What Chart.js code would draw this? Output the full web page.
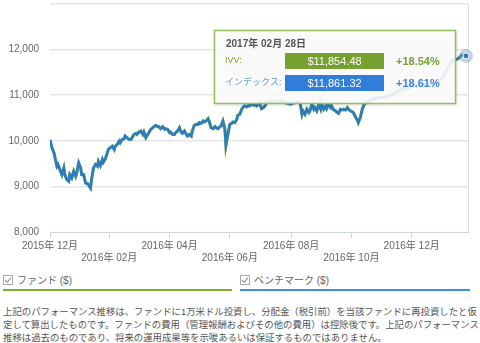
<!DOCTYPE html>
<html lang="ja">
<head>
<meta charset="utf-8">
<title>パフォーマンス推移</title>
<script src="https://cdn.jsdelivr.net/npm/chart.js@4.4.1/dist/chart.umd.min.js"></script>
<style>
  body { margin: 0; background: #fff; font-family: "Liberation Sans", "Noto Sans CJK JP", sans-serif; }
  #wrap { position: relative; width: 480px; height: 343px; overflow: hidden; }
  #chartBox { position: absolute; left: 0; top: 0; width: 480px; height: 265px; }
  .legend-item { position: absolute; top: 273px; height: 16px; font-size: 10px; color: #666; line-height: 16px; }
  .legend-item svg { vertical-align: -1px; margin-right: 4px; }
  #fundLegend { left: 3px; width: 229px; border-bottom: 2px solid #7cae34; }
  #indexLegend { left: 240px; width: 230px; border-bottom: 2px solid #3d8fe6; }
  #note { position: absolute; left: 3px; top: 305px; font-size: 9.4px; line-height: 13px; color: #555; white-space: nowrap; }
</style>
</head>
<body>
<div id="wrap">
  <div id="chartBox"><canvas id="perfChart"></canvas></div>
  <div class="legend-item" id="fundLegend"></div>
  <div class="legend-item" id="indexLegend"></div>
  <div id="note">上記のパフォーマンス推移は、ファンドに1万米ドル投資し、分配金（税引前）を当該ファンドに再投資したと仮<br>定して算出したものです。ファンドの費用（管理報酬およびその他の費用）は控除後です。上記のパフォーマンス<br>推移は過去のものであり、将来の運用成果等を示唆あるいは保証するものではありません。</div>
</div>
<script>
'use strict';

// days since 2015-12-31
const days = [
  0, 2, 4, 7, 8, 10, 12, 14, 15, 17, 19, 20, 22, 24, 26, 27, 29, 31, 32, 34,
  36, 38, 41, 42, 44, 46, 48, 49, 51, 53, 54, 56, 58, 59, 61, 63, 65, 66, 68, 70,
  71, 73, 75, 76, 78, 80, 82, 83, 85, 87, 88, 90, 92, 94, 95, 97, 99, 100, 102, 104,
  105, 107, 109, 110, 112, 114, 116, 117, 119, 121, 122, 124, 126, 127, 129, 131, 133, 134, 136, 138,
  139, 141, 143, 144, 146, 148, 150, 151, 153, 155, 156, 158, 160, 161, 163, 165, 167, 168, 170, 172,
  173, 175, 177, 178, 180, 182, 184, 185, 187, 189, 190, 192, 194, 195, 197, 199, 201, 202, 204, 206,
  207, 209, 211, 212, 214, 216, 218, 219, 222, 226, 229, 233, 236, 240, 243, 246, 250, 253, 255, 256,
  258, 260, 262, 263, 265, 267, 268, 270, 272, 274, 275, 277, 279, 280, 282, 284, 285, 287, 289, 290,
  292, 294, 296, 297, 299, 301, 302, 304, 306, 307, 309, 311, 312, 314, 316, 318, 319, 321, 323, 328,
  335, 342, 346, 350, 354, 358, 362, 366, 370, 374, 378, 382, 386, 390, 394, 398, 401, 404, 407, 410,
  413, 417, 421
];

// IVV (USD)
const fundValues = [
  10020, 9846, 9736, 9442, 9479, 9369, 9258, 9405, 9258, 9148, 9111, 9258, 9185, 9332, 9222, 9295, 9516, 9405, 9258, 9258,
  9075, 9060, 8964, 9148, 9405, 9479, 9442, 9552, 9456, 9589, 9530, 9604, 9736, 9810, 9846, 9883, 9810, 9883, 9920, 9993,
  9957, 10030, 10045, 10104, 10067, 10030, 10030, 10067, 10140, 10163, 10140, 10192, 10214, 10140, 10192, 10067, 10140, 10177, 10251, 10287,
  10310, 10339, 10310, 10310, 10265, 10310, 10251, 10265, 10251, 10177, 10192, 10140, 10140, 10177, 10214, 10287, 10177, 10163, 10214, 10140,
  10104, 10140, 10104, 10214, 10339, 10361, 10361, 10398, 10383, 10434, 10412, 10434, 10486, 10434, 10287, 10265, 10310, 10287, 10265, 10310,
  10324, 10434, 10251, 9898, 10140, 10361, 10383, 10412, 10398, 10471, 10559, 10581, 10692, 10728, 10765, 10743, 10780, 10765, 10802, 10780,
  10802, 10765, 10802, 10839, 10707, 10728, 10780, 10839, 10853, 10875, 10839, 10875, 10853, 10824, 10802, 10824, 10853, 10839, 10581, 10655,
  10581, 10692, 10619, 10655, 10802, 10692, 10728, 10655, 10802, 10692, 10802, 10692, 10765, 10707, 10802, 10728, 10765, 10677, 10655, 10633,
  10603, 10692, 10677, 10692, 10677, 10728, 10692, 10655, 10633, 10619, 10530, 10456, 10398, 10508, 10692, 10802, 10824, 10839, 10875, 10927,
  10949, 10971, 11000, 11050, 11110, 11160, 11150, 11190, 11220, 11180, 11230, 11250, 11210, 11260, 11320, 11420, 11540, 11650, 11760, 11775,
  11800, 11885, 11854.48
];

// index (USD)
const indexValues = [
  10020, 9846, 9736, 9442, 9479, 9369, 9258, 9405, 9258, 9148, 9111, 9258, 9185, 9332, 9222, 9295, 9516, 9405, 9258, 9258,
  9075, 9060, 8964, 9148, 9405, 9479, 9442, 9552, 9456, 9589, 9530, 9604, 9736, 9810, 9846, 9883, 9810, 9883, 9920, 9993,
  9957, 10030, 10045, 10104, 10067, 10030, 10030, 10067, 10140, 10163, 10140, 10192, 10214, 10140, 10192, 10067, 10140, 10177, 10251, 10287,
  10310, 10339, 10310, 10310, 10265, 10310, 10251, 10265, 10251, 10177, 10192, 10140, 10140, 10177, 10214, 10287, 10177, 10163, 10214, 10140,
  10104, 10140, 10104, 10214, 10339, 10361, 10361, 10398, 10383, 10434, 10412, 10434, 10486, 10434, 10287, 10265, 10310, 10287, 10265, 10310,
  10324, 10434, 10251, 9898, 10140, 10361, 10383, 10412, 10398, 10471, 10559, 10581, 10692, 10728, 10765, 10743, 10780, 10765, 10802, 10780,
  10802, 10765, 10802, 10839, 10707, 10728, 10780, 10839, 10853, 10875, 10839, 10875, 10853, 10824, 10802, 10824, 10853, 10839, 10581, 10655,
  10581, 10692, 10619, 10655, 10802, 10692, 10728, 10655, 10802, 10692, 10802, 10692, 10765, 10707, 10802, 10728, 10765, 10677, 10655, 10633,
  10603, 10692, 10677, 10692, 10677, 10728, 10692, 10655, 10633, 10619, 10530, 10456, 10398, 10508, 10692, 10802, 10824, 10839, 10875, 10927,
  10949, 10971, 11000, 11050, 11110, 11160, 11150, 11190, 11220, 11180, 11230, 11250, 11210, 11260, 11320, 11420, 11540, 11650, 11760, 11775,
  11800, 11885, 11861.32
];

const xTickDays = [0, 60, 121, 182, 244, 305, 366];
const xTickLabels = ['2015年 12月', '2016年 02月', '2016年 04月', '2016年 06月', '2016年 08月', '2016年 10月', '2016年 12月'];
const yTickValues = [8000, 9000, 10000, 11000, 12000, 13000];

const seriesNames = ['IVV:', 'インデックス:'];
const legendNames = ['ファンド ($)', 'ベンチマーク ($)'];
const lastDateLabel = '2017年 02月 28日';
const initialInvestment = 10000;

const GREEN = '#93bd52';
const BLUE = '#2a7bc3';
const FONT = '"Liberation Sans", "Noto Sans CJK JP", sans-serif';

// legend entries below the chart
const checkSvg = '<svg width="10" height="10"><rect x="0.5" y="0.5" width="9" height="9" fill="#fff" stroke="#aaa"/>' +
  '<path d="M2 5 L4.2 7.4 L8 2.6" fill="none" stroke="#999" stroke-width="1.2"/></svg>';
document.getElementById('fundLegend').innerHTML = checkSvg + legendNames[0];
document.getElementById('indexLegend').innerHTML = checkSvg + legendNames[1];

const toPoints = vals => days.map((d, i) => ({ x: d, y: vals[i] }));

// thin frame line on the right side of the plot
const rightFrame = {
  id: 'rightFrame',
  beforeDatasetsDraw(chart) {
    const { ctx, chartArea } = chart;
    ctx.save();
    ctx.strokeStyle = '#dcdcdc';
    ctx.lineWidth = 1;
    ctx.beginPath();
    ctx.moveTo(chartArea.right + 0.5, chartArea.top);
    ctx.lineTo(chartArea.right + 0.5, chartArea.bottom);
    ctx.stroke();
    ctx.restore();
  }
};

// hovered last point + info panel
const hoverPanel = {
  id: 'hoverPanel',
  afterDraw(chart) {
    const { ctx, chartArea } = chart;
    const last = days.length - 1;
    const pt = chart.getDatasetMeta(1).data[last];

    ctx.save();
    ctx.fillStyle = 'rgba(120,160,190,0.45)';
    ctx.beginPath();
    ctx.arc(pt.x, pt.y, 7, 0, Math.PI * 2);
    ctx.fill();
    ctx.fillStyle = BLUE;
    ctx.strokeStyle = '#fff';
    ctx.lineWidth = 1;
    ctx.beginPath();
    ctx.arc(pt.x, pt.y, 3, 0, Math.PI * 2);
    ctx.fill();
    ctx.stroke();

    const w = 242, h = 74;
    const L = Math.round(pt.x - 10 - w);
    const T = Math.round(chartArea.top + 26);

    ctx.shadowColor = 'rgba(0,0,0,0.18)';
    ctx.shadowBlur = 3;
    ctx.shadowOffsetX = 1;
    ctx.shadowOffsetY = 1;
    ctx.fillStyle = 'rgba(255,255,255,0.88)';
    ctx.fillRect(L, T, w, h);
    ctx.shadowColor = 'transparent';
    ctx.strokeStyle = '#98bd5c';
    ctx.lineWidth = 1.5;
    ctx.strokeRect(L + 0.5, T + 0.5, w - 1, h - 1);

    ctx.textBaseline = 'middle';
    ctx.textAlign = 'left';
    ctx.fillStyle = '#555';
    ctx.font = 'bold 10px ' + FONT;
    ctx.fillText(lastDateLabel, L + 12, T + 14);

    const rows = [
      { name: seriesNames[0], value: fundValues[last], text: '#7c9f3a', box: '#76a030', pct: '#76a033', y: T + 31 },
      { name: seriesNames[1], value: indexValues[last], text: '#6b9be0', box: '#307dda', pct: '#3a82e0', y: T + 53 }
    ];
    rows.forEach(r => {
      ctx.font = '9px ' + FONT;
      ctx.fillStyle = r.text;
      ctx.textAlign = 'left';
      ctx.fillText(r.name, L + 11, r.y);

      ctx.fillStyle = r.box;
      ctx.fillRect(L + 71, r.y - 8, 99, 16);
      ctx.fillStyle = '#fff';
      ctx.font = '11px ' + FONT;
      ctx.textAlign = 'center';
      ctx.fillText('$' + r.value.toLocaleString('en-US', { minimumFractionDigits: 2, maximumFractionDigits: 2 }), L + 120.5, r.y + 0.5);

      const pct = (r.value / initialInvestment - 1) * 100;
      ctx.fillStyle = r.pct;
      ctx.font = 'bold 11px ' + FONT;
      ctx.textAlign = 'left';
      ctx.fillText('+' + pct.toFixed(2) + '%', L + 182, r.y + 0.5);
    });
    ctx.restore();
  }
};

new Chart(document.getElementById('perfChart'), {
  type: 'line',
  data: {
    datasets: [
      {
        label: legendNames[0],
        data: toPoints(fundValues),
        borderColor: GREEN,
        borderWidth: 3.2,
        pointRadius: 0,
        tension: 0,
        order: 1
      },
      {
        label: legendNames[1],
        data: toPoints(indexValues),
        borderColor: BLUE,
        borderWidth: 2.6,
        pointRadius: 0,
        tension: 0,
        order: 0
      }
    ]
  },
  options: {
    responsive: true,
    maintainAspectRatio: false,
    animation: false,
    layout: { autoPadding: false, padding: { top: 4, right: 12, left: 0, bottom: 0 } },
    plugins: {
      legend: { display: false },
      tooltip: { enabled: false }
    },
    scales: {
      x: {
        type: 'linear',
        min: 0,
        max: 423,
        afterBuildTicks: scale => { scale.ticks = xTickDays.map(v => ({ value: v })); },
        afterFit: scale => { scale.height = 33; },
        border: { display: true, color: '#ccd6eb', width: 1 },
        grid: { drawOnChartArea: false, drawTicks: true, tickLength: 6, color: '#ccd6eb' },
        ticks: {
          autoSkip: false,
          maxRotation: 0,
          padding: 2,
          color: '#666',
          font: { family: FONT, size: 10, lineHeight: 1.2 },
          callback: value => {
            const i = xTickDays.indexOf(value);
            return i % 2 === 0 ? [xTickLabels[i]] : ['', xTickLabels[i]];
          }
        }
      },
      y: {
        min: yTickValues[0],
        max: yTickValues[yTickValues.length - 1],
        afterBuildTicks: scale => { scale.ticks = yTickValues.map(v => ({ value: v })); },
        afterFit: scale => {
          scale.width = 50;
          scale.paddingTop = 0;
          scale.paddingBottom = 0;
        },
        border: { display: false },
        grid: {
          drawTicks: false,
          lineWidth: 1.5,
          color: c => (c.tick && c.tick.value === yTickValues[0]) ? 'rgba(0,0,0,0)' : '#e6e6e6'
        },
        ticks: {
          padding: 11,
          color: '#666',
          font: { family: FONT, size: 10 },
          callback: v => v === yTickValues[yTickValues.length - 1] ? '' : v.toLocaleString('en-US')
        }
      }
    }
  },
  plugins: [rightFrame, hoverPanel]
});
</script>
</body>
</html>
